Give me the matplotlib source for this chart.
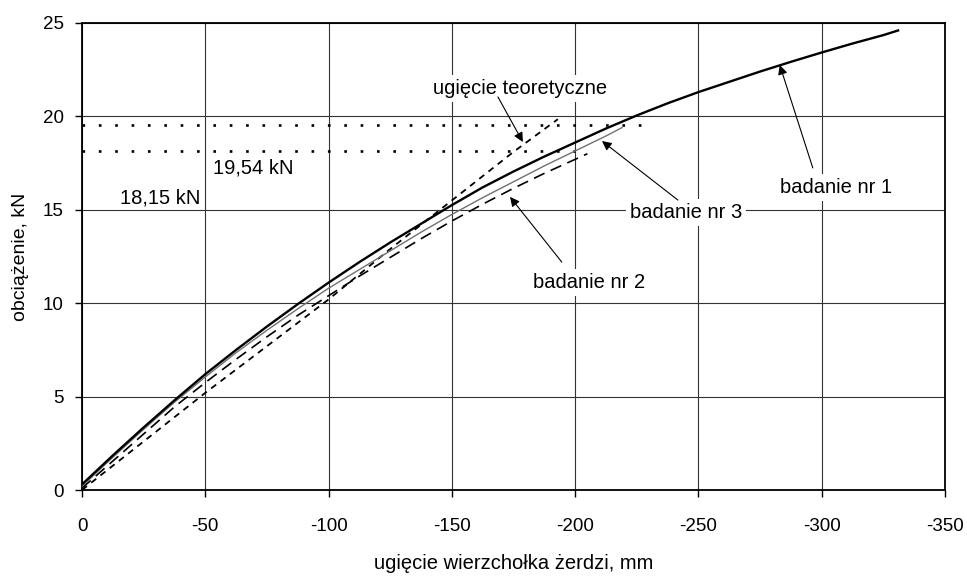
import matplotlib
matplotlib.use("Agg")
import matplotlib.pyplot as plt

plt.rcParams['font.family'] = ['Liberation Sans', 'DejaVu Sans']
plt.rcParams['axes.unicode_minus'] = False

# Data
x_nr1 = [0, -12.5, -25, -37.5, -50, -62.5, -75, -87.5, -100, -112.5, -125, -137.5, -150,
         -162.5, -175, -187.5, -200, -212.5, -225, -237.5, -250, -262.5, -275, -287.5,
         -300, -312.5, -325, -331]
y_nr1 = [0.3, 1.85, 3.35, 4.8, 6.2, 7.5, 8.75, 9.95, 11.1, 12.2, 13.25, 14.25, 15.25,
         16.2, 17.05, 17.85, 18.6, 19.35, 20.05, 20.7, 21.3, 21.85, 22.4, 22.92,
         23.42, 23.9, 24.35, 24.6]

x_nr3 = [0, -12.5, -25, -37.5, -50, -62.5, -75, -87.5, -100, -112.5, -125, -137.5, -150,
         -162.5, -175, -187.5, -200, -212.5, -219]
y_nr3 = [0.2, 1.75, 3.25, 4.7, 6.05, 7.35, 8.55, 9.7, 10.8, 11.8, 12.8, 13.8, 14.75,
         15.65, 16.5, 17.35, 18.15, 18.95, 19.4]

x_nr2 = [0, -12.5, -25, -37.5, -50, -62.5, -75, -87.5, -100, -112.5, -125, -137.5, -150,
         -162.5, -175, -187.5, -200, -205]
y_nr2 = [0.1, 1.55, 3.0, 4.45, 5.75, 7.0, 8.2, 9.35, 10.4, 11.45, 12.45, 13.45, 14.4,
         15.3, 16.15, 16.95, 17.7, 18.0]

x_teor = [0, -25, -50, -75, -100, -125, -150, -175, -193]
y_teor = [0.0, 2.6, 5.2, 7.7, 10.2, 12.9, 15.5, 18.1, 19.85]

lvl_upper = 19.54
lvl_upper_end = -232
lvl_lower = 18.15
lvl_lower_end = -200

x_ticks = [0, -50, -100, -150, -200, -250, -300, -350]
y_ticks = [0, 5, 10, 15, 20, 25]

fig = plt.figure(figsize=(9.67, 5.79), dpi=100)
ax = fig.add_axes([0.0848, 0.1537, 0.8924, 0.8066])

ax.set_xlim(0, -350)
ax.set_ylim(0, 25)
ax.set_xticks(x_ticks)
ax.set_yticks(y_ticks)
ax.tick_params(axis='both', direction='out', length=5, width=1, labelsize=13.5, pad=8)
ax.tick_params(axis='x', pad=15)
ax.grid(True, color='#333333', linewidth=0.8)
ax.set_axisbelow(True)
for s in ax.spines.values():
    s.set_linewidth(1.3)
    s.set_color('black')

# dotted levels
ax.plot([0, lvl_upper_end], [lvl_upper, lvl_upper], color='black', lw=1.9,
        linestyle=(0, (1, 5.2)), dash_capstyle='butt', zorder=2)
ax.plot([0, lvl_lower_end], [lvl_lower, lvl_lower], color='black', lw=1.9,
        linestyle=(0, (1, 5.2)), dash_capstyle='butt', zorder=2)

ax.plot(x_teor, y_teor, color='black', lw=1.3, linestyle=(0, (3.5, 3)), zorder=3)
ax.plot(x_nr2, y_nr2, color='black', lw=1.2, linestyle=(0, (7, 4)), zorder=3)
ax.plot(x_nr3, y_nr3, color='#707070', lw=1.0, zorder=3)
ax.plot(x_nr1, y_nr1, color='black', lw=1.7, zorder=4)

ax.set_xlabel('ugięcie wierzchołka żerdzi, mm', fontsize=14.5, labelpad=14)
ax.set_ylabel('obciążenie, kN', fontsize=14, labelpad=10)

bb = dict(boxstyle='square,pad=0.2', fc='white', ec='none')
fs = 14.5
ax.text(-177.6, 21.5, 'ugięcie teoretyczne', fontsize=fs, ha='center', va='center', bbox=bb, zorder=5)
ax.text(-245.0, 14.83, 'badanie nr 3', fontsize=fs, ha='center', va='center', bbox=bb, zorder=5)
ax.text(-205.6, 11.13, 'badanie nr 2', fontsize=fs, ha='center', va='center', bbox=bb, zorder=5)
ax.text(-305.8, 16.2, 'badanie nr 1', fontsize=fs, ha='center', va='center', bbox=bb, zorder=5)
ax.text(-69.3, 17.24, '19,54 kN', fontsize=fs, ha='center', va='center', zorder=5)
ax.text(-31.6, 15.63, '18,15 kN', fontsize=fs, ha='center', va='center', zorder=5)

ap = dict(arrowstyle='-|>', lw=0.8, color='black', mutation_scale=14, shrinkA=0, shrinkB=0)
ax.annotate('', xy=(-178.8, 18.63), xytext=(-168.7, 21.04), arrowprops=ap, zorder=6)
ax.annotate('', xy=(-210.9, 18.68), xytext=(-241.7, 15.52), arrowprops=ap, zorder=6)
ax.annotate('', xy=(-173.6, 15.69), xytext=(-194.6, 12.2), arrowprops=ap, zorder=6)
ax.annotate('', xy=(-283.0, 22.75), xytext=(-296.4, 17.24), arrowprops=ap, zorder=6)

fig.savefig('out.png', dpi=100)
